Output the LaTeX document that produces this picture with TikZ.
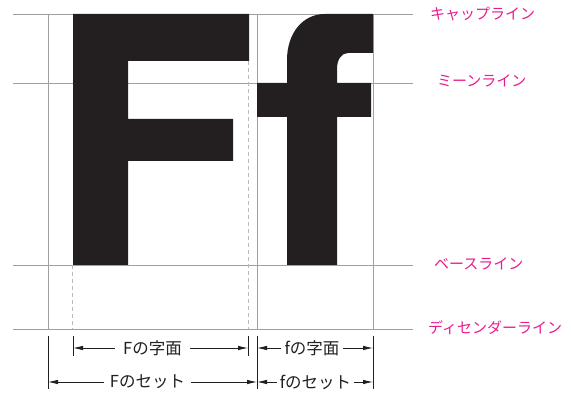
\documentclass[tikz,border=0pt]{standalone}
\usepackage{fontspec}
\setmainfont{Noto Sans CJK JP}
\usetikzlibrary{arrows.meta}
\definecolor{glyph}{RGB}{35,31,32}
\definecolor{guide}{RGB}{160,160,160}
\definecolor{guidedash}{RGB}{185,185,185}
\definecolor{pinklabel}{RGB}{232,28,140}
\tikzset{
  guideline/.style={draw=guide,line width=0.9pt},
  dashguide/.style={draw=guidedash,line width=0.9pt,dash pattern=on 4pt off 3pt},
  extline/.style={draw=glyph,line width=0.8pt},
  dimarrow/.style={draw=glyph,line width=0.8pt,-{Latex[length=10pt,width=4.5pt]}},
  linelabel/.style={text=pinklabel,font=\fontsize{15pt}{15pt}\selectfont,anchor=west,inner sep=0pt},
  dimlabel/.style={text=glyph,font=\fontsize{16.5pt}{16.5pt}\selectfont,fill=white,inner ysep=1pt},
}
\begin{document}
\begin{tikzpicture}[x=1pt,y=-1pt]
\useasboundingbox (0,0) rectangle (571,393);
% horizontal guides
\draw[guideline] (13,14) -- (413,14);
\draw[guideline] (13,83) -- (413,83);
\draw[guideline] (13,265) -- (413,265);
\draw[guideline] (13,329) -- (413,329);
% vertical guides
\draw[guideline] (48,14) -- (48,329);
\draw[guideline] (257,14) -- (257,329);
\draw[guideline] (373,14) -- (373,329);
\draw[dashguide] (72,265) -- (72,329);
\draw[dashguide] (248,61) -- (248,329);
% glyphs
\fill[glyph] (73,14) -- (249,14) -- (249,61) -- (128,61) -- (128,119) -- (233,119) -- (233,161) -- (128,161) -- (128,265) -- (73,265) -- cycle;
\fill[glyph] (287,265) -- (287,117) -- (257,117) -- (257,83) -- (287,83) -- (287,60)
  .. controls (287,34) and (302,14) .. (325,14) -- (373,14) -- (373,53) -- (348,53)
  .. controls (341,53) and (337,60) .. (337,69) -- (337,83) -- (371,83) -- (371,117) -- (337,117) -- (337,265) -- cycle;
% line labels
\node[linelabel] (cap) at (430,14) {キャップライン};
\node[linelabel] (mean) at (437,81) {ミーンライン};
\node[linelabel] (base) at (434,264) {ベースライン};
\node[linelabel] (desc) at (428,328) {ディセンダーライン};
% extension lines
\coordinate (e1t) at (48,336); \coordinate (e1b) at (48,389);
\coordinate (e2t) at (73,336); \coordinate (e2b) at (73,356);
\coordinate (e3t) at (248,336); \coordinate (e3b) at (248,356);
\coordinate (e4t) at (257,336); \coordinate (e4b) at (257,389);
\coordinate (e5t) at (373,336); \coordinate (e5b) at (373,389);
\draw[extline] (e1t) -- (e1b);
\draw[extline] (e2t) -- (e2b);
\draw[extline] (e3t) -- (e3b);
\draw[extline] (e4t) -- (e4b);
\draw[extline] (e5t) -- (e5b);
% dimension labels
\node[dimlabel,inner xsep=8pt] (Fface) at (152.5,348) {Fの字面};
\node[dimlabel,inner xsep=6pt] (Fset) at (147.5,382) {Fのセット};
\node[dimlabel,inner xsep=3pt] (fface) at (312,348) {fの字面};
\node[dimlabel,inner xsep=3pt] (fset) at (315.5,382) {fのセット};
% arrow end points
\coordinate (a1) at (73,348); \coordinate (a2) at (248,348);
\coordinate (a3) at (48,382); \coordinate (a4) at (257,382);
\coordinate (a5) at (257,348); \coordinate (a6) at (373,348);
\coordinate (a7) at (257,382); \coordinate (a8) at (373,382);
\draw[dimarrow] (Fface.west) -- (a1);
\draw[dimarrow] (Fface.east) -- (a2);
\draw[dimarrow] (Fset.west) -- (a3);
\draw[dimarrow] (Fset.east) -- (a4);
\draw[dimarrow] (fface.west) -- (a5);
\draw[dimarrow] (fface.east) -- (a6);
\draw[dimarrow] (fset.west) -- (a7);
\draw[dimarrow] (fset.east) -- (a8);
\end{tikzpicture}
\end{document}
